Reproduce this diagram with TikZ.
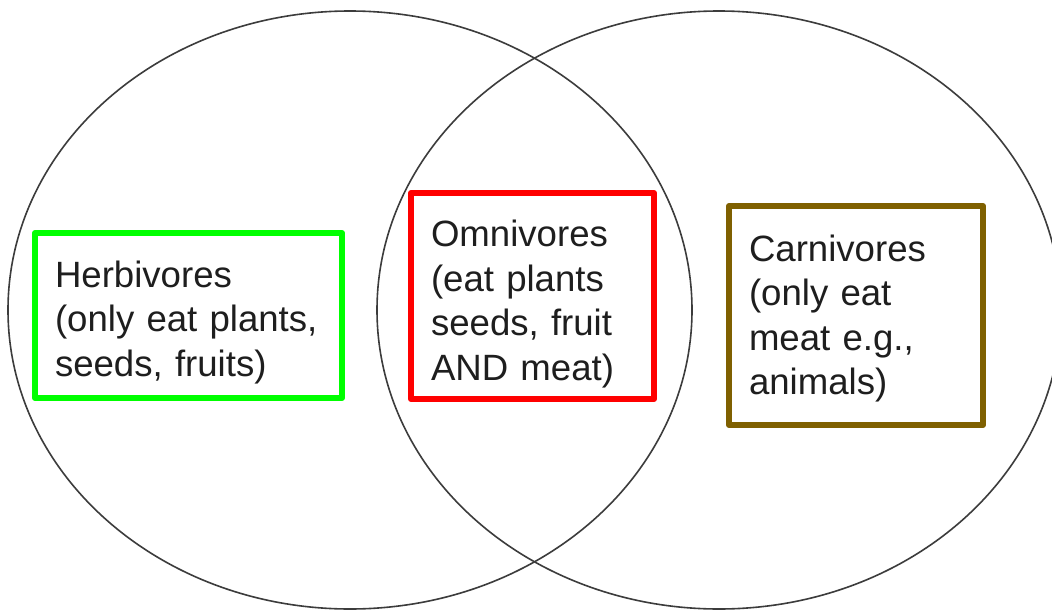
\documentclass[tikz,border=0pt]{standalone}
\usepackage{fontspec}
\setmainfont{Liberation Sans}
\definecolor{herbgreen}{RGB}{0,255,0}
\definecolor{omnired}{RGB}{255,0,0}
\definecolor{carnbrown}{RGB}{127,96,0}
\definecolor{ringgray}{RGB}{60,60,60}
\definecolor{inkblack}{RGB}{30,30,30}
\begin{document}
\begin{tikzpicture}[x=1pt,y=-1pt,
  ring/.style={draw=ringgray,line width=1.6pt},
  catbox/.style={rectangle,line width=6pt,line join=round,fill=white,
    inner sep=0pt,anchor=center},
  cattext/.style={inner xsep=20pt,inner ysep=0pt,align=left,text=inkblack,
    font=\fontsize{36.6}{44.5}\selectfont,anchor=center}]
\useasboundingbox (0,0) rectangle (1052,613);
\clip (0,0) rectangle (1052,613);
\fill[white] (0,0) rectangle (1052,613);
\draw[ring] (350,310) ellipse [x radius=342pt, y radius=299pt];
\draw[ring] (719,310) ellipse [x radius=342pt, y radius=299pt];
\node[catbox,draw=herbgreen,minimum width=307pt,minimum height=165pt] (herb) at (188.5,315.5) {};
\node[catbox,draw=omnired,minimum width=243pt,minimum height=206pt] (omni) at (532.5,296) {};
\node[catbox,draw=carnbrown,minimum width=254pt,minimum height=219pt] (carn) at (856,315.5) {};
\node[cattext,text width=267pt,yshift=-7pt] (herbtext) at (herb.center)
  {Herbivores\\(only eat plants,\\seeds, fruits)};
\node[cattext,text width=203pt,yshift=-8pt] (omnitext) at (omni.center)
  {Omnivores\\(eat plants\\seeds, fruit\\AND meat)};
\node[cattext,text width=214pt,yshift=-3pt] (carntext) at (carn.center)
  {Carnivores\\(only eat\\meat e.g.,\\animals)};
\end{tikzpicture}
\end{document}
